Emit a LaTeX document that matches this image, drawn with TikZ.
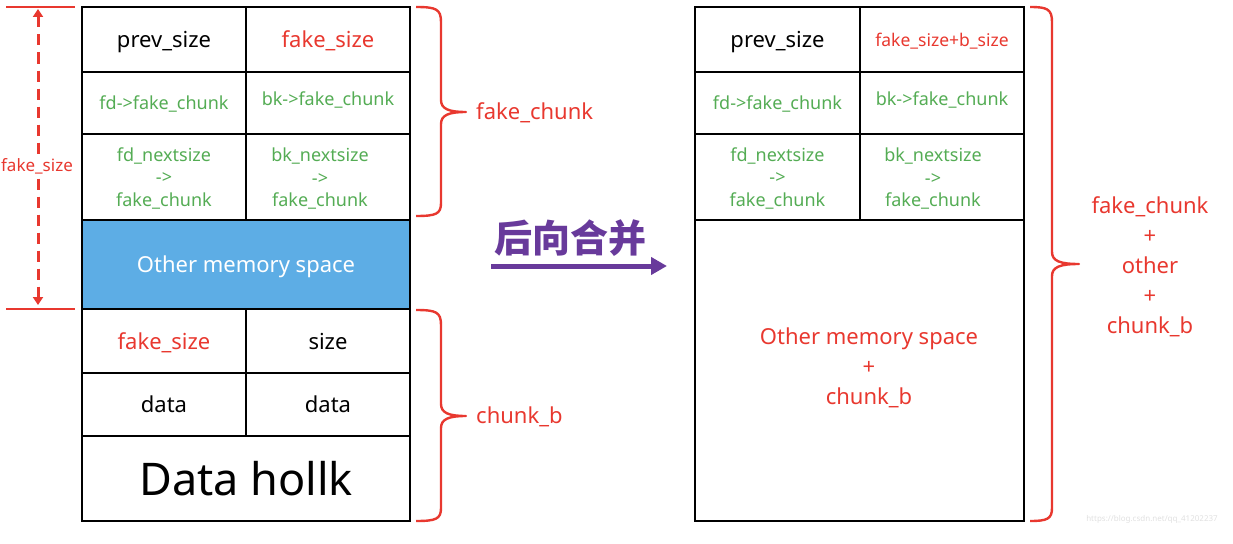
\documentclass[tikz,border=0pt]{standalone}
\usepackage{fontspec}
\setmainfont{Noto Sans}
\newfontfamily\cjk{Noto Sans CJK SC}
\usetikzlibrary{arrows.meta}
\definecolor{myred}{RGB}{232,56,47}
\definecolor{mygreen}{RGB}{84,172,84}
\definecolor{myblue}{RGB}{93,173,229}
\definecolor{mypurple}{RGB}{104,58,155}
\begin{document}
\begin{tikzpicture}[x=1pt,y=-1pt,
  cell/.style={draw=black, line width=2.6pt, inner sep=0pt, align=center, text depth=0pt, font=\fontsize{22}{26}\selectfont},
  grn/.style={text=mygreen, font=\fontsize{18}{22.5}\selectfont},
  grntxt/.style={text=mygreen, font=\fontsize{18}{22.5}\selectfont, align=center, inner sep=0pt},
  redtxt/.style={text=myred},
  brace/.style={draw=myred, line width=2.4pt, line join=round},
  lbl/.style={text=myred, font=\fontsize{22}{30}\selectfont, align=center, inner sep=0pt},
  redline/.style={draw=myred, line width=2.4pt}
]
\useasboundingbox (0,0) rectangle (1233,543);

% ---------- left table ----------
\node[cell, minimum width=164pt, minimum height=65pt] (L11) at (164,39.5) {prev\_size};
\node[cell, minimum width=164pt, minimum height=65pt, redtxt] (L12) at (328,39.5) {fake\_size};
\node[cell, minimum width=164pt, minimum height=62pt, grn] (L21) at (164,103) {fd->fake\_chunk};
\node[cell, minimum width=164pt, minimum height=62pt] (L22) at (328,103) {};
\node[grntxt] (L22t) at (328,100) {bk->fake\_chunk};
\node[cell, minimum width=164pt, minimum height=86pt, grn] (L31) at (164,177) {fd\_nextsize\\->\\fake\_chunk};
\node[cell, minimum width=164pt, minimum height=86pt] (L32) at (328,177) {};
\node[grntxt] (L32t) at (320,179) {bk\_nextsize\\->\\fake\_chunk};
\node[cell, minimum width=328pt, minimum height=89pt, fill=myblue, text=white] (LB) at (246,264.5) {Other memory space};
\node[cell, minimum width=164pt, minimum height=64pt, redtxt] (L41) at (164,341) {fake\_size};
\node[cell, minimum width=164pt, minimum height=64pt] (L42) at (328,341) {size};
\node[cell, minimum width=164pt, minimum height=63pt] (L51) at (164,404.5) {data};
\node[cell, minimum width=164pt, minimum height=63pt] (L52) at (328,404.5) {data};
\node[cell, minimum width=328pt, minimum height=85pt, font=\fontsize{45}{50}\selectfont] (L6) at (246,478.5) {Data hollk};

% ---------- left size marker ----------
\coordinate (h1a) at (6,7);   \coordinate (h1b) at (75,7);
\coordinate (h2a) at (6,309); \coordinate (h2b) at (75,309);
\draw[redline] (h1a) -- (h1b);
\draw[redline] (h2a) -- (h2b);
\coordinate (dT) at (38,9);
\coordinate (dB) at (38,305);
\draw[myred, line width=3pt, dash pattern=on 11pt off 7pt,
  {Triangle[length=8pt,width=10pt]}-{Triangle[length=8pt,width=10pt]}] (dT) -- (dB);
\node[fill=white, text=myred, font=\fontsize{17}{20}\selectfont, inner sep=1pt] (fsz) at (37,166) {fake\_size};

% ---------- left braces ----------
\coordinate (b1t) at (416,7);
\coordinate (b1tip) at (466,112);
\coordinate (b1b) at (416,216);
\draw[brace] (b1t) .. controls (436,7) and (441,9) .. (441,22) -- (441,100)
  .. controls (441,109) and (449,112) .. (b1tip)
  .. controls (449,112) and (441,115) .. (441,124) -- (441,203)
  .. controls (441,214) and (436,216) .. (b1b);
\node[lbl, anchor=west] (fc) at (476,113) {fake\_chunk};

\coordinate (b2t) at (416,310);
\coordinate (b2tip) at (466,416);
\coordinate (b2b) at (416,521);
\draw[brace] (b2t) .. controls (436,310) and (441,312) .. (441,325) -- (441,404)
  .. controls (441,413) and (449,416) .. (b2tip)
  .. controls (449,416) and (441,419) .. (441,428) -- (441,508)
  .. controls (441,519) and (436,521) .. (b2b);
\node[lbl, anchor=west] (cb) at (476,417) {chunk\_b};

% ---------- middle arrow ----------
\node[text=mypurple, font={\cjk\bfseries\fontsize{38}{40}\selectfont}, inner sep=0pt] (merge) at (570,238) {后向合并};
\coordinate (aS) at (491,266);
\coordinate (aE) at (667,266);
\draw[mypurple, line width=5pt, -{Triangle[length=16pt,width=17pt]}] (aS) -- (aE);

% ---------- right table ----------
\node[cell, minimum width=165pt, minimum height=65pt] (R11) at (777.5,39.5) {prev\_size};
\node[cell, minimum width=164pt, minimum height=65pt, redtxt, font=\fontsize{17.5}{21}\selectfont] (R12) at (942,39.5) {fake\_size+b\_size};
\node[cell, minimum width=165pt, minimum height=62pt, grn] (R21) at (777.5,103) {fd->fake\_chunk};
\node[cell, minimum width=164pt, minimum height=62pt] (R22) at (942,103) {};
\node[grntxt] (R22t) at (942,100) {bk->fake\_chunk};
\node[cell, minimum width=165pt, minimum height=86pt, grn] (R31) at (777.5,177) {fd\_nextsize\\->\\fake\_chunk};
\node[cell, minimum width=164pt, minimum height=86pt] (R32) at (942,177) {};
\node[grntxt] (R32t) at (933,179) {bk\_nextsize\\->\\fake\_chunk};
\node[cell, minimum width=329pt, minimum height=301pt] (RB) at (859.5,370.5) {};
\node[lbl] (rbt) at (869,368) {Other memory space\\+\\chunk\_b};

% ---------- right brace ----------
\coordinate (b3t) at (1030,7);
\coordinate (b3tip) at (1079,264);
\coordinate (b3b) at (1030,521);
\draw[brace] (b3t) .. controls (1047,7) and (1052,9) .. (1052,22) -- (1052,252)
  .. controls (1052,261) and (1060,264) .. (b3tip)
  .. controls (1060,264) and (1052,267) .. (1052,276) -- (1052,508)
  .. controls (1052,519) and (1047,521) .. (b3b);
\node[lbl] (rl) at (1150,267) {fake\_chunk\\+\\other\\+\\chunk\_b};

% ---------- watermark ----------
\node[text=black!12, font=\fontsize{8}{9}\selectfont, inner sep=0pt] (wm) at (1152,519) {https://blog.csdn.net/qq\_41202237};
\end{tikzpicture}
\end{document}
